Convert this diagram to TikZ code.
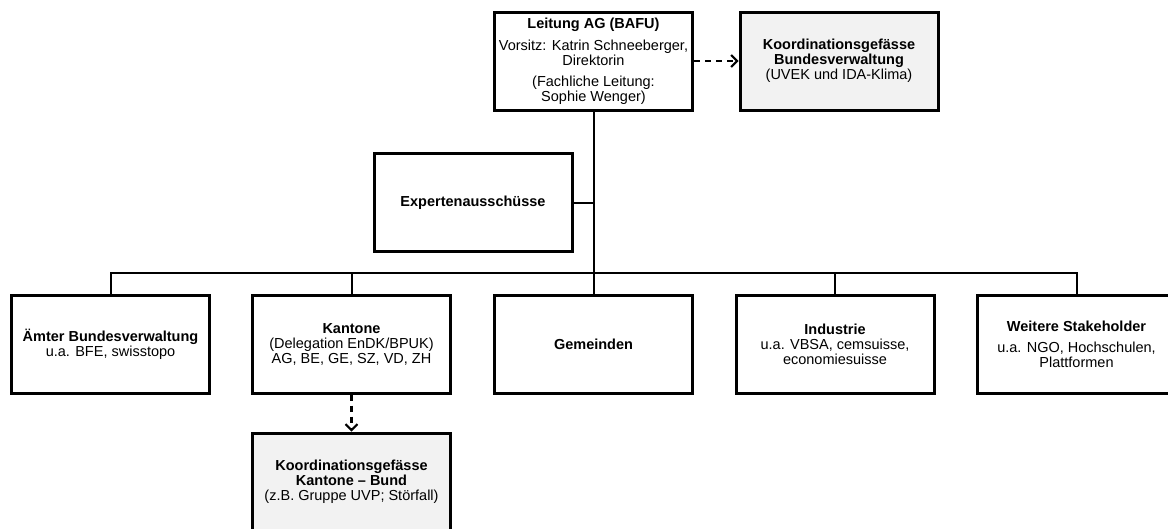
\documentclass[tikz,border=0pt]{standalone}
\usepackage{fontspec}
\setmainfont{Liberation Sans}
\usetikzlibrary{arrows.meta, positioning}
\tikzset{
  orgbox/.style={draw, line width=3pt, minimum width=198pt, minimum height=98pt,
    align=center, inner sep=2pt, font=\fontsize{14.5}{15}\selectfont},
  koordbox/.style={orgbox, fill=gray!10},
  link/.style={line width=2pt},
  dashlink/.style={line width=2.5pt, dash pattern=on 6pt off 5pt,
    -{Straight Barb[length=6pt,width=12pt,line width=2pt]}}
}

\begin{document}
\begin{tikzpicture}[x=1pt,y=1pt]
\useasboundingbox (0,0) rectangle (1168,-528);
% top row
\node[orgbox] (leitung) at (593.5,-61) {\textbf{Leitung AG (BAFU)}\\[7pt]
  Vorsitz: Katrin Schneeberger,\\ Direktorin\\[6pt]
  (Fachliche Leitung:\\ Sophie Wenger)};
\node[koordbox] (kbund) at (839,-61) {\textbf{Koordinationsgefässe}\\
  \textbf{Bundesverwaltung}\\ (UVEK und IDA-Klima)};
\node[orgbox] (expert) at (473,-202.5) {\textbf{Expertenausschüsse}};
% bottom row
\node[orgbox] (aemter) at (110.5,-344) {\textbf{Ämter Bundesverwaltung}\\ u.a. BFE, swisstopo};
\node[orgbox] (kantone) at (351.5,-344) {\textbf{Kantone}\\ (Delegation EnDK/BPUK)\\
  AG, BE, GE, SZ, VD, ZH};
\node[orgbox] (gemeinden) at (593.5,-344) {\textbf{Gemeinden}};
\node[orgbox] (industrie) at (835,-344) {\textbf{Industrie}\\ u.a. VBSA, cemsuisse,\\ economiesuisse};
\node[orgbox] (weitere) at (1076.5,-344) {\textbf{Weitere Stakeholder}\\[6pt]
  u.a. NGO, Hochschulen,\\ Plattformen};
\node[koordbox] (kkb) at (351.5,-482) {\textbf{Koordinationsgefässe}\\
  \textbf{Kantone -- Bund}\\ (z.B. Gruppe UVP; Störfall)};
% connectors
\draw[link] (leitung.south) -- (gemeinden.north);
\draw[link] (expert.east) -- (expert.east -| leitung.south);
\draw[link] (aemter.north) -- ++(0,21) -| (weitere.north);
\foreach \n in {kantone, industrie}
  \draw[link] (\n.north) -- ++(0,21);
\draw[dashlink] (leitung.east) -- (kbund.west);
\draw[dashlink] (kantone.south) -- (kkb.north);
\end{tikzpicture}
\end{document}
